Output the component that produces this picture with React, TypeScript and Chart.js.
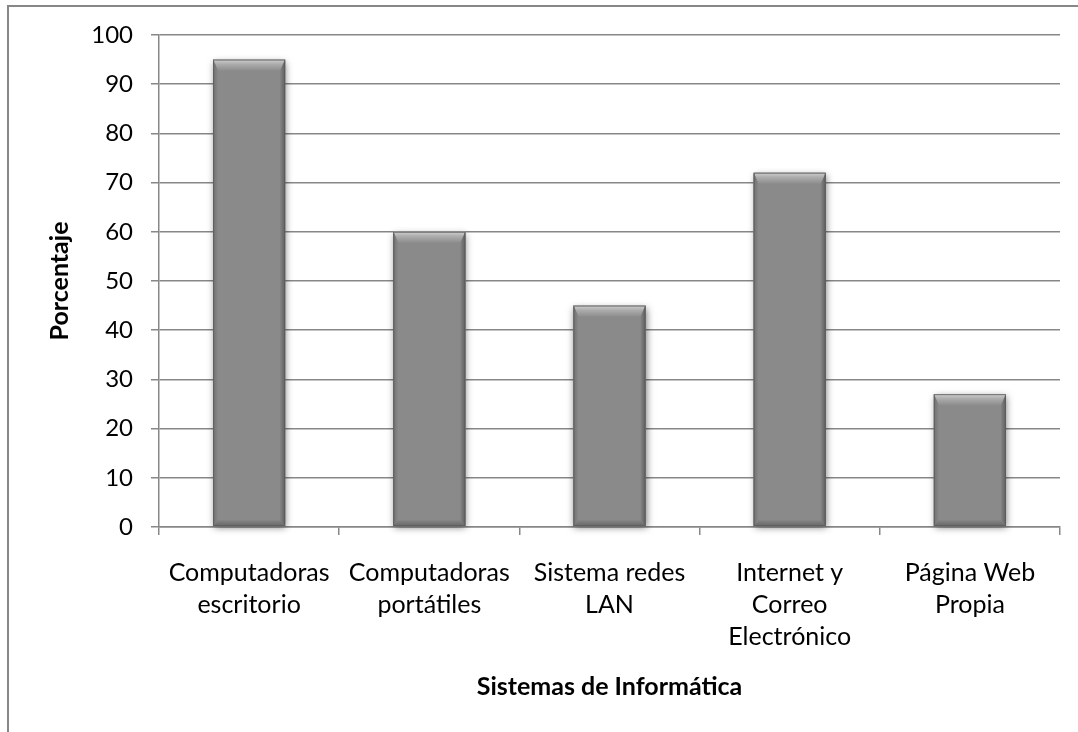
import React, { useEffect, useRef } from 'react';
import { Chart, registerables } from 'chart.js';

Chart.register(...registerables);

const categories: string[][] = [
  ['Computadoras', 'escritorio'],
  ['Computadoras', 'portátiles'],
  ['Sistema redes', 'LAN'],
  ['Internet y', 'Correo', 'Electrónico'],
  ['Página Web', 'Propia'],
];
const values: number[] = [95, 60, 45, 72, 27];
const yMin = 0;
const yMax = 100;
const yStep = 10;
const yTitle = 'Porcentaje';
const xTitle = 'Sistemas de Informática';

const FONT = 'Lato, "Open Sans", sans-serif';
const GRID = '#878787';

const bevelPlugin = {
  id: 'bevel',
  beforeDatasetsDraw(chart: any) {
    const ctx = chart.ctx;
    const meta = chart.getDatasetMeta(0);
    ctx.save();
    meta.data.forEach((el: any) => {
      const { x, y, base, width } = el.getProps(['x', 'y', 'base', 'width'], true);
      const l = x - width / 2;
      const t = Math.min(y, base);
      const h = Math.abs(base - y);
      ctx.shadowColor = 'rgba(0,0,0,0.5)';
      ctx.shadowBlur = 7;
      ctx.shadowOffsetX = 1;
      ctx.shadowOffsetY = 2;
      ctx.fillStyle = '#8a8a8a';
      ctx.fillRect(l, t, width, h);
    });
    ctx.restore();
  },
  afterDatasetsDraw(chart: any) {
    const ctx = chart.ctx;
    const meta = chart.getDatasetMeta(0);
    ctx.save();
    meta.data.forEach((el: any) => {
      const { x, y, base, width } = el.getProps(['x', 'y', 'base', 'width'], true);
      const l = x - width / 2;
      const r = x + width / 2;
      const t = Math.min(y, base);
      const b = Math.max(y, base);
      const bt = 11;
      const s = 5;
      const bb = 6;
      ctx.fillStyle = '#8a8a8a';
      ctx.fillRect(l, t, width, b - t);
      let g = ctx.createLinearGradient(0, t, 0, t + bt);
      g.addColorStop(0, '#cfcfcf');
      g.addColorStop(0.4, '#adadad');
      g.addColorStop(1, '#8d8d8d');
      ctx.fillStyle = g;
      ctx.beginPath();
      ctx.moveTo(l, t);
      ctx.lineTo(r, t);
      ctx.lineTo(r - s, t + bt);
      ctx.lineTo(l + s, t + bt);
      ctx.closePath();
      ctx.fill();
      g = ctx.createLinearGradient(l, 0, l + s, 0);
      g.addColorStop(0, '#707070');
      g.addColorStop(1, '#898989');
      ctx.fillStyle = g;
      ctx.beginPath();
      ctx.moveTo(l, t);
      ctx.lineTo(l + s, t + bt);
      ctx.lineTo(l + s, b - bb);
      ctx.lineTo(l, b);
      ctx.closePath();
      ctx.fill();
      g = ctx.createLinearGradient(r - s, 0, r, 0);
      g.addColorStop(0, '#848484');
      g.addColorStop(1, '#5f5f5f');
      ctx.fillStyle = g;
      ctx.beginPath();
      ctx.moveTo(r, t);
      ctx.lineTo(r, b);
      ctx.lineTo(r - s, b - bb);
      ctx.lineTo(r - s, t + bt);
      ctx.closePath();
      ctx.fill();
      g = ctx.createLinearGradient(0, b - bb, 0, b);
      g.addColorStop(0, '#848484');
      g.addColorStop(1, '#666666');
      ctx.fillStyle = g;
      ctx.beginPath();
      ctx.moveTo(l, b);
      ctx.lineTo(l + s, b - bb);
      ctx.lineTo(r - s, b - bb);
      ctx.lineTo(r, b);
      ctx.closePath();
      ctx.fill();
      ctx.strokeStyle = 'rgba(90,90,90,0.8)';
      ctx.lineWidth = 1;
      ctx.strokeRect(l + 0.5, t + 0.5, width - 1, b - t - 1);
    });
    ctx.restore();
  },
};

export default function App() {
  const ref = useRef<HTMLCanvasElement | null>(null);

  useEffect(() => {
    if (!ref.current) return;
    const chart = new Chart(ref.current, {
      type: 'bar',
      data: {
        labels: categories,
        datasets: [
          {
            data: values,
            backgroundColor: '#8a8a8a',
            borderWidth: 0,
            barPercentage: 0.4,
            categoryPercentage: 1.0,
          },
        ],
      },
      plugins: [bevelPlugin],
      options: {
        animation: false,
        responsive: false,
        maintainAspectRatio: false,
        events: [],
        layout: { padding: { left: 0, top: 35, right: 18, bottom: 0 } },
        plugins: {
          legend: { display: false },
          tooltip: { enabled: false },
          title: { display: false },
        },
        scales: {
          x: {
            afterFit: (scale: any) => {
              scale.height = 205;
            },
            grid: {
              display: true,
              drawOnChartArea: false,
              drawTicks: true,
              tickLength: 8,
              color: GRID,
              lineWidth: 1.5,
              offset: true,
            },
            border: { display: true, color: GRID, width: 1.5 },
            ticks: {
              color: '#000',
              padding: 22,
              maxRotation: 0,
              autoSkip: false,
              font: { family: FONT, size: 25, lineHeight: 1.28 },
            },
            title: {
              display: true,
              text: xTitle,
              color: '#000',
              font: { family: FONT, size: 25, weight: 'bold', lineHeight: 1.2 },
              padding: { top: 0, bottom: 30 },
            },
          },
          y: {
            min: yMin,
            max: yMax,
            afterFit: (scale: any) => {
              scale.width = 159;
            },
            grid: {
              color: GRID,
              lineWidth: 1.5,
              tickLength: 8,
              drawTicks: true,
            },
            border: { display: true, color: GRID, width: 1.5 },
            ticks: {
              stepSize: yStep,
              color: '#000',
              padding: 18,
              font: { family: FONT, size: 24 },
            },
            title: {
              display: true,
              text: yTitle,
              color: '#000',
              font: { family: FONT, size: 25, weight: 'bold', lineHeight: 1.2 },
              padding: { top: 45, bottom: 0 },
            },
          },
        },
      },
    });
    return () => chart.destroy();
  }, []);

  return (
    <div
      style={{
        position: 'fixed',
        left: 0,
        top: 0,
        width: 1078,
        height: 732,
        overflow: 'hidden',
        background: '#fff',
      }}
    >
      <div
        style={{
          position: 'absolute',
          left: 7,
          top: 5,
          width: 1200,
          height: 900,
          borderTop: '2px solid #878787',
          borderLeft: '2px solid #878787',
          boxSizing: 'border-box',
        }}
      />
      <canvas
        ref={ref}
        width={1078}
        height={732}
        style={{ position: 'absolute', left: 0, top: 0, width: 1078, height: 732 }}
      />
    </div>
  );
}
